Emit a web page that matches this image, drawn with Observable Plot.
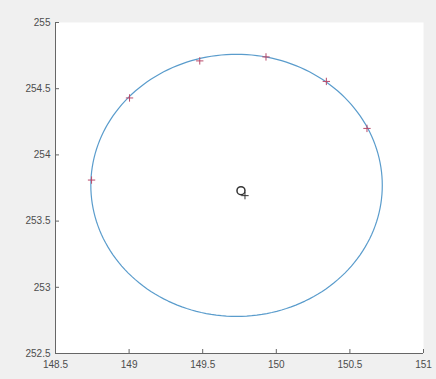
<!DOCTYPE html>
<html><head><meta charset="utf-8">
<script src="https://cdn.jsdelivr.net/npm/d3@7"></script>
<script src="https://cdn.jsdelivr.net/npm/@observablehq/plot@0.6"></script>
<style>
html,body{margin:0;padding:0;background:#f0f0f0;}
</style>
</head><body>
<div id="chart"></div>
<script>
// measured points (red "+")
const px = [148.745, 149.003, 149.48, 149.93, 150.34, 150.616];
const py = [253.81, 254.43, 254.71, 254.74, 254.555, 254.20];
// fitted circle parameters
const circleCenter = [149.73, 253.77];
const circleRadius = 0.99;
// estimated centre marker
const centreX = [149.76];
const centreY = [253.73];
const xTicks = [148.5, 149, 149.5, 150, 150.5, 151];
const yTicks = [252.5, 253, 253.5, 254, 254.5, 255];

const pts = px.map((x, i) => ({x, y: py[i]}));
const angles = d3.range(0, 361, 2);
const circle = angles.map(a => ({
  x: circleCenter[0] + circleRadius * Math.cos(a * Math.PI / 180),
  y: circleCenter[1] + circleRadius * Math.sin(a * Math.PI / 180)
}));
const centre = centreX.map((x, i) => ({x, y: centreY[i]}));

const chart = Plot.plot({
  width: 436, height: 379,
  marginLeft: 55, marginRight: 13, marginTop: 22, marginBottom: 26,
  style: {background: "#f0f0f0", fontFamily: "Liberation Sans, Arial, sans-serif", fontSize: "10px", color: "#4d4d4d"},
  x: {domain: [148.5, 151], ticks: xTicks, tickFormat: d => String(d), label: null},
  y: {domain: [252.5, 255], ticks: yTicks, tickFormat: d => String(d), label: null},
  marks: [
    Plot.frame({fill: "white", stroke: null}),
    Plot.axisX({ticks: xTicks, tickFormat: d => String(d), tickSize: -4, tickPadding: 11, stroke: "#666", label: null}),
    Plot.axisY({ticks: yTicks, tickFormat: d => String(d), tickSize: -4, tickPadding: 9, stroke: "#666", label: null}),
    Plot.ruleX([148.5], {stroke: "#666"}),
    Plot.ruleY([252.5], {stroke: "#666"}),
    Plot.line(circle, {x: "x", y: "y", stroke: "#5a9ccc", strokeWidth: 1.2}),
    Plot.dot(pts, {x: "x", y: "y", symbol: "plus", r: 2.5, stroke: "#b84a6a", strokeWidth: 1}),
    Plot.dot(centre, {x: "x", y: "y", symbol: "circle", r: 4, stroke: "#333", strokeWidth: 1.5}),
    Plot.dot(centre, {x: "x", y: "y", symbol: "plus", r: 2.5, dx: 4, dy: 5, stroke: "#333", strokeWidth: 1})
  ]
});
document.getElementById("chart").appendChild(chart);
</script>
</body></html>
